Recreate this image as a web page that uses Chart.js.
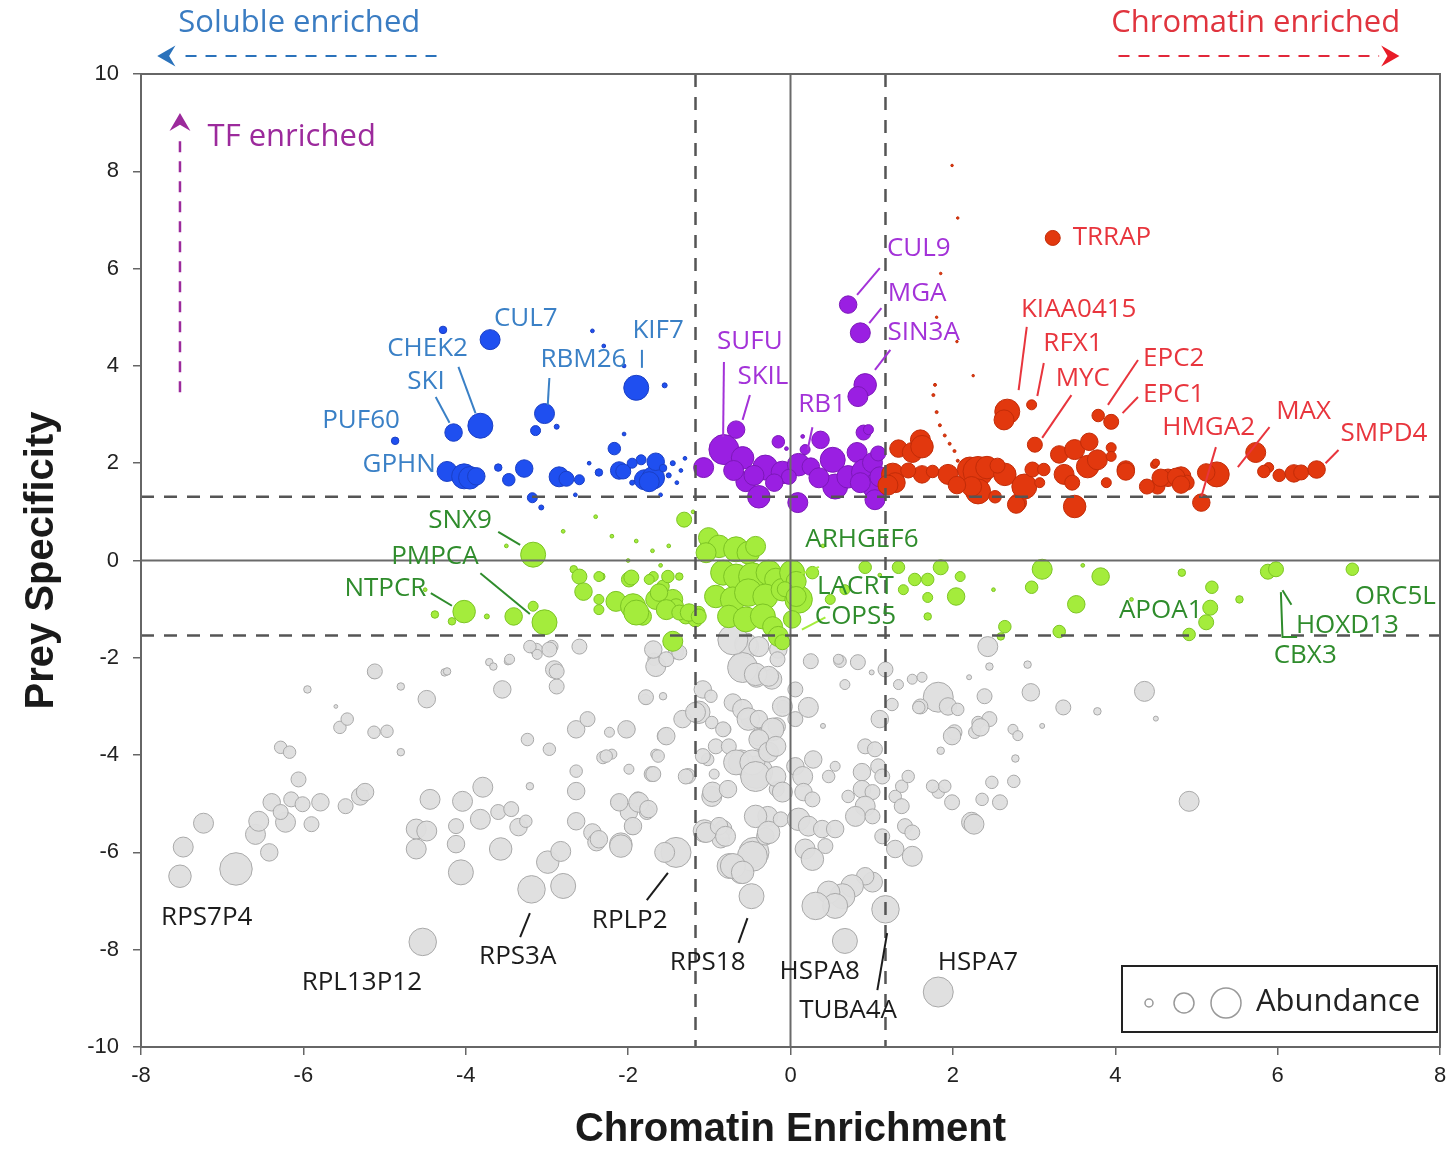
<!DOCTYPE html>
<html>
<head>
<meta charset="utf-8">
<title>Chromatin enrichment vs prey specificity</title>
<script src="https://cdn.jsdelivr.net/npm/chart.js@4.4.1/dist/chart.umd.min.js"></script>
<style>
  html, body { margin: 0; padding: 0; background: #fff; }
  #wrap { width: 1447px; height: 1150px; }
</style>
</head>
<body>
<div id="wrap"><canvas id="enrichChart" width="1447" height="1150"></canvas></div>
<script>
// axis ticks and cut-offs
const xTicks = [-8, -6, -4, -2, 0, 2, 4, 6, 8];
const yTicks = [-10, -8, -6, -4, -2, 0, 2, 4, 6, 8, 10];
const xCuts = [-1.17, 1.17];
const yCuts = [1.31, -1.54];

// [chromatin enrichment, prey specificity, abundance]
const bluePts = [
  [-4.28,4.74,3],[-3.70,4.54,8],[-4.15,2.63,7],[-3.82,2.77,10],[-3.03,3.02,8],[-3.14,2.67,4],[-2.88,2.75,2],
  [-1.90,3.55,10],[-4.87,2.46,3],[-4.23,1.83,8],[-4.02,1.73,10],[-3.95,1.70,9],[-3.87,1.73,7],
  [-3.60,1.91,3],[-3.47,1.66,5],[-3.28,1.89,7],[-2.85,1.72,8],[-2.76,1.68,6],[-2.60,1.66,4],[-2.36,1.81,3],
  [-2.17,2.30,5],[-2.11,1.85,7],[-1.84,2.07,4],[-1.80,1.66,8],[-1.69,1.70,9],[-1.66,2.03,7],[-1.74,1.62,8],
  [-3.18,1.29,4],[-3.07,1.09,2],[-2.44,4.72,1.5],[-2.30,4.41,1.5],[-2.05,4.0,1.5],[-1.55,3.6,2],[-2.05,2.6,1.5],
  [-2.48,2.0,1.5],[-1.57,1.90,3],[-1.50,1.75,2],[-1.45,2.0,2],[-1.40,1.6,1.5],[-1.35,1.85,1.5],[-1.95,1.6,2],
  [-2.0,1.9,2],[-2.65,1.35,1.5],[-1.60,1.35,1.5],[-1.3,2.1,1.5],[-2.06,1.83,6],[-1.95,2.0,4]
];
const purplePts = [
  [0.71,5.26,7],[0.86,4.68,8],[0.92,3.61,9],[0.83,3.37,8],[0.90,2.63,6],[0.96,2.69,4],[-0.67,2.69,7],
  [-0.82,2.28,12],[-0.59,2.11,9],[-1.07,1.91,8],[-0.55,1.62,8],[-0.39,1.31,9],[-0.31,1.91,10],[-0.15,2.44,5],
  [-0.10,1.81,9],[0.10,1.97,9],[0.09,1.19,8],[0.25,1.93,7],[0.37,2.48,7],[0.52,2.07,10],[0.55,1.52,10],
  [0.82,2.22,8],[0.71,1.72,9],[0.92,1.81,11],[1.04,1.52,10],[1.04,1.25,8],[0.86,1.60,8],[1.01,2.01,8],
  [1.10,1.72,8],[-0.02,1.72,6],[0.18,2.28,4],[-0.45,1.75,8],[-0.70,1.85,8],[0.35,1.70,8],[1.08,2.2,6],
  [-0.20,1.6,7],[0.15,2.55,1.5],[-0.05,2.3,1.5]
];
const redPts = [
  [3.23,6.63,6],[2.67,3.06,10],[2.63,2.89,8],[2.97,3.20,4],[3.01,2.38,6],[3.79,2.98,5],[3.95,2.85,6],
  [5.73,2.22,8],[5.06,1.19,7],[5.25,1.77,10],[5.12,1.81,7],[5.89,1.91,4],[5.83,1.83,5],[6.02,1.75,5],
  [6.20,1.79,7],[6.29,1.81,6],[6.48,1.87,7],[4.48,1.97,3],[4.52,1.52,6],[4.65,1.70,7],[4.81,1.72,8],
  [4.88,1.60,6],[4.13,1.87,7],[1.33,2.30,7],[1.50,2.22,8],[1.60,2.48,8],[1.62,2.34,9],[1.26,1.77,9],
  [1.29,1.60,8],[1.62,1.77,7],[1.75,1.83,5],[1.94,1.77,8],[2.21,1.87,10],[2.31,1.83,12],[2.42,1.91,9],
  [2.31,1.42,10],[2.23,1.52,8],[2.52,1.31,5],[2.64,1.77,9],[2.80,1.19,7],[2.88,1.52,10],[2.98,1.87,6],
  [3.12,1.87,5],[3.31,2.18,7],[3.50,2.28,8],[3.68,2.44,7],[3.37,1.77,8],[3.47,1.60,6],[3.50,1.11,9],
  [3.66,1.93,9],[3.78,2.07,8],[3.95,2.32,4],[3.95,2.14,4],[3.89,1.60,4],[4.13,1.83,7],[4.39,1.52,6],
  [4.50,2.01,3],[4.56,1.70,7],[4.75,1.72,7],[4.81,1.56,7],[2.78,1.15,7],[3.07,1.60,4],[1.20,1.55,8],
  [1.45,1.85,6],[2.05,1.55,7],[2.55,1.95,6],
  [1.99,8.12,1],[2.06,7.04,1],[1.85,5.9,1],[1.80,5.0,1],[1.78,3.61,1.2],[1.76,3.40,1.2],[1.80,3.05,1.2],
  [1.84,2.78,1.2],[1.90,2.57,1.2],[1.96,2.40,1.2],[2.02,2.25,1.2],[2.06,2.05,1.2],[2.05,4.5,1],[2.25,3.8,1]
];
const greenPts = [
  [-1.31,0.84,6],[-1.01,0.47,8],[-0.88,0.29,9],[-1.04,0.16,8],[-0.67,0.23,10],[-0.52,0.16,9],[-0.43,0.29,8],
  [-0.83,-0.25,10],[-0.67,-0.33,10],[-0.47,-0.33,11],[-0.27,-0.25,10],[-0.18,-0.39,9],[-0.92,-0.74,9],
  [-0.71,-0.80,10],[-0.52,-0.66,11],[-0.31,-0.74,10],[-0.10,-0.60,9],[0.02,-0.25,10],[-0.76,-1.15,9],
  [-0.55,-1.21,10],[-0.34,-1.15,10],[-0.22,-1.36,8],[-0.15,-1.56,8],[-0.10,-1.68,6],[0.10,-0.80,11],
  [0.02,-1.21,7],[0.07,-0.43,8],[-1.99,-0.39,6],[-2.15,-0.84,8],[-1.94,-0.94,10],[-1.82,-1.15,7],
  [-1.66,-0.80,8],[-1.57,-0.53,5],[-1.51,-0.33,5],[-1.45,-0.80,8],[-1.29,-1.15,6],[-1.41,-0.94,6],
  [-1.69,-0.33,4],[-1.37,-0.33,3],[-1.17,-1.21,6],[-1.13,-1.07,5],[-2.33,-0.33,3],[-1.45,-1.66,8],
  [-3.17,0.12,10],[-4.02,-1.05,9],[-4.38,-1.11,3],[-4.17,-1.25,3],[-3.03,-1.27,10],[-3.41,-1.15,7],
  [-3.17,-0.94,4],[-3.74,-1.15,2],[-2.67,-0.18,3],[-2.60,-0.33,6],[-2.55,-0.64,7],[-2.36,-0.33,4],
  [-2.36,-0.80,4],[-2.36,-1.01,4],[-1.96,-0.35,6],[-1.90,-1.07,10],[-1.74,-0.39,4],[-1.62,-0.66,7],
  [-1.53,-1.01,8],[-1.37,-1.07,6],[-1.25,-1.07,7],[-1.13,-1.15,6],
  [1.33,-0.14,5],[1.53,-0.39,5],[1.85,-0.14,6],[2.09,-0.33,4],[2.04,-0.74,7],[1.69,-0.76,4],[1.69,-1.15,3],
  [2.64,-1.36,5],[2.59,-1.56,3],[2.97,-0.55,5],[3.10,-0.18,8],[3.31,-1.46,5],[3.52,-0.90,7],[3.82,-0.33,7],
  [4.82,-0.25,3],[5.19,-0.55,5],[5.17,-0.97,6],[5.12,-1.27,6],[5.53,-0.80,3],[4.91,-1.52,5],[5.88,-0.23,6],
  [5.98,-0.18,6],[6.92,-0.18,5],[-0.07,-0.59,6],[0.07,-0.74,8],[1.39,-0.60,4],[1.69,-0.39,5],[0.92,-0.14,5],
  [0.67,-0.60,4],[0.49,-0.80,4],[0.27,-0.25,5],
  [-2.8,0.6,1.5],[-2.4,0.9,1.5],[-2.2,0.5,1.5],[-1.9,0.4,1.5],[-1.7,0.2,1.5],[-1.5,0.3,1.5],[-1.6,-0.1,1.5],
  [-2.0,0.0,1.5],[-3.5,0.3,1.5],[-4.5,-0.6,1.5],[-1.2,1.0,1.5],[0.4,0.3,1.5],[1.1,-0.3,1.5],[2.5,-0.6,1.5],
  [4.2,-0.8,1.5],[3.6,-0.1,1.5]
];
const grayPts = [
  [-7.48,-5.89,8],[-7.52,-6.49,9],[-7.23,-5.40,8],[-6.83,-6.34,13],[-6.59,-5.63,8],[-6.55,-5.36,8],
  [-6.42,-6.00,7],[-6.39,-4.97,7],[-6.22,-5.38,8],[-6.28,-5.17,6],[-6.28,-3.84,5],[-6.17,-3.94,5],
  [-6.06,-4.50,6],[-6.15,-4.91,6],[-6.01,-5.01,6],[-5.90,-5.42,6],[-5.79,-4.97,7],[-5.95,-2.65,3],
  [-5.55,-3.43,5],[-5.46,-3.26,5],[-5.48,-5.05,6],[-5.30,-4.85,7],[-5.24,-4.76,7],[-5.13,-3.53,5],
  [-4.97,-3.51,5],[-5.13,-2.30,5],[-4.80,-3.94,3],[-4.80,-2.59,3],[-4.48,-2.85,7],[-4.26,-2.30,3],
  [-4.44,-4.91,8],[-4.61,-5.52,8],[-4.48,-5.56,8],[-4.61,-5.93,8],[-4.53,-7.84,11],[-4.04,-4.95,8],
  [-4.12,-5.46,6],[-4.12,-5.83,7],[-4.06,-6.41,10],[-3.79,-4.66,8],[-3.82,-5.32,8],[-3.60,-5.17,6],
  [-3.44,-5.11,6],[-3.35,-5.48,7],[-3.26,-5.36,5],[-3.57,-5.93,9],[-3.71,-2.09,3],[-3.55,-2.65,7],
  [-3.48,-2.07,3],[-3.24,-3.68,5],[-3.21,-4.64,3],[-3.19,-6.76,11],[-2.99,-6.20,9],[-2.83,-5.98,8],
  [-2.80,-6.69,10],[-2.97,-3.88,5],[-2.91,-2.24,7],[-2.88,-2.59,6],[-3.13,-1.83,5],[-2.94,-1.77,5],
  [-2.64,-3.47,7],[-2.50,-3.26,6],[-2.64,-4.33,5],[-2.64,-4.74,7],[-2.64,-5.36,7],[-2.44,-5.59,7],
  [-2.39,-5.79,7],[-2.31,-4.05,5],[-2.20,-3.98,4],[-2.01,-3.47,6],[-2.12,-4.97,6],[-2.09,-5.83,9],
  [-1.99,-5.17,7],[-1.88,-4.91,6],[-1.77,-5.17,6],[-1.95,-5.48,6],[-1.79,-2.85,4],[-1.71,-4.39,6],
  [-1.66,-3.98,4],[-1.55,-3.61,6],[-1.41,-6.00,12],[-1.55,-6.00,8],[-1.26,-4.43,6],[-1.13,-3.12,9],
  [-1.02,-4.09,5],[-1.06,-5.56,9],[-0.97,-4.85,8],[-0.83,-5.52,7],[-0.86,-5.73,7],[-0.97,-3.33,5],
  [-0.94,-4.39,4],[-0.75,-6.28,10],[-0.61,-6.41,9],[-0.45,-6.00,12],[-0.48,-6.90,10],[-0.42,-4.35,13],
  [-0.61,-4.15,10],[-0.81,-3.47,5],[-0.50,-3.26,7],[-0.39,-3.63,7],[-0.31,-3.94,6],[-0.28,-5.26,8],
  [-0.31,-5.67,7],[-0.17,-3.41,7],[-0.17,-4.70,6],[-0.59,-2.18,11],[-0.42,-2.40,8],[-0.53,-1.77,9],
  [-0.23,-2.44,8],[-0.15,-1.83,7],[-0.09,-3.00,5],[-1.68,-2.03,5],[-1.41,-1.87,6],[-1.57,-2.79,3],
  [-0.55,-1.72,9],[-0.59,-2.20,12],[-0.43,-2.34,9],[-0.27,-2.38,8],[-0.16,-2.03,6],[-1.66,-2.18,8],
  [-1.78,-2.81,6],[-2.02,-3.47,7],[-2.23,-3.53,4],[-2.27,-4.02,5],[-1.53,-3.61,7],[-1.63,-4.02,5],
  [-1.99,-4.29,4],[-1.69,-4.39,6],[-1.33,-3.26,7],[-1.17,-3.12,8],[-1.08,-2.65,7],[-0.98,-2.79,5],
  [-0.71,-2.92,7],[-0.59,-3.06,8],[-0.52,-3.26,9],[-0.39,-3.26,7],[-0.22,-3.47,9],[-0.10,-3.00,8],
  [-0.83,-3.47,6],[-0.92,-3.82,6],[-1.08,-4.02,6],[-0.76,-3.82,6],[-0.67,-4.15,10],[-0.47,-4.15,10],
  [-0.39,-3.68,8],[-0.43,-4.44,12],[-0.27,-3.94,8],[-0.18,-3.82,8],[-0.18,-4.44,8],[-1.29,-4.44,6],
  [-0.96,-4.76,8],[-0.77,-4.70,7],[-2.11,-4.97,7],[-1.87,-4.97,8],[-1.75,-5.11,7],[-1.94,-5.46,7],
  [-2.09,-5.87,9],[-2.36,-5.73,7],[-1.04,-5.59,8],[-0.88,-5.46,7],[-0.80,-5.67,8],[-0.43,-5.26,9],
  [-0.27,-5.59,9],[-0.12,-5.32,6],[-0.47,-6.08,12],[-0.71,-6.28,10],[-0.59,-6.41,9],[-0.10,-4.76,8],
  [0.25,-2.07,6],[0.61,-2.07,5],[0.83,-2.09,6],[1.17,-2.24,6],[0.06,-2.65,6],[0.22,-3.02,8],[0.06,-3.26,6],
  [0.67,-2.55,4],[1.10,-3.26,7],[1.25,-2.96,5],[1.33,-2.55,4],[1.50,-2.44,4],[1.62,-2.40,4],[1.82,-2.81,12],
  [1.94,-3.00,7],[2.06,-3.06,5],[1.60,-3.00,6],[2.39,-2.79,6],[2.45,-3.26,6],[2.31,-3.33,5],[2.02,-3.53,6],
  [2.27,-3.53,5],[2.45,-2.18,3],[2.43,-1.77,8],[2.74,-3.47,4],[0.06,-4.23,7],[0.15,-4.44,8],[0.28,-4.09,7],
  [0.47,-4.44,5],[0.55,-4.23,4],[0.16,-4.76,7],[0.27,-4.91,6],[0.92,-3.82,6],[1.04,-3.88,6],[1.08,-4.23,6],
  [1.13,-4.44,6],[0.88,-4.35,7],[0.88,-4.70,7],[1.01,-4.76,6],[0.92,-5.05,8],[0.80,-5.26,8],[1.01,-5.26,6],
  [0.71,-4.85,5],[1.29,-4.85,5],[1.37,-4.64,5],[1.45,-4.44,5],[1.37,-5.05,6],[1.41,-5.46,6],[1.50,-5.59,6],
  [1.29,-5.93,7],[1.50,-6.08,8],[1.13,-5.67,6],[1.82,-4.76,5],[1.90,-4.64,5],[1.99,-4.97,6],[2.23,-5.38,8],
  [2.36,-4.91,5],[2.48,-4.56,5],[2.58,-4.97,6],[0.10,-5.32,9],[0.22,-5.46,8],[0.39,-5.52,7],[0.55,-5.52,7],
  [0.18,-5.93,8],[0.27,-6.14,9],[0.43,-5.87,6],[1.01,-6.61,8],[0.92,-6.49,7],[0.76,-6.69,9],[0.64,-6.90,10],
  [0.47,-6.82,9],[0.55,-7.10,10],[0.31,-7.10,11],[1.17,-7.17,11],[0.59,-2.03,4],[1.58,-3.02,5],
  [2.96,-2.71,7],[3.36,-3.02,6],[3.78,-3.10,3],[4.36,-2.69,8],[4.50,-3.25,2],[4.91,-4.95,8],[0.67,-7.82,10],
  [1.82,-8.87,12],[1.75,-4.64,5],[2.26,-5.42,8],[2.75,-4.54,5],[1.99,-3.61,7],[2.34,-3.43,7],[2.80,-3.60,4],
  [2.77,-4.07,3],[1.85,-3.91,3],[2.92,-2.14,3],[-1.69,-1.83,7],[-1.53,-2.03,6],[-1.37,-1.89,6],
  [-2.60,-1.77,6],[-2.97,-1.83,6],[-3.21,-1.77,5],[-3.46,-2.03,4],[-3.12,-1.93,4],[-3.66,-2.18,3],
  [-4.23,-2.28,3],[-5.12,-2.28,6],[-2.88,-2.28,6],[-0.71,-1.63,12],[-0.39,-1.77,8],
  [1.0,-2.3,2],[2.2,-2.4,2],[0.4,-3.4,2],[3.1,-3.4,2],[-5.6,-3.0,1.5]
];

// gene labels: [text, x, y, group]
const geneLabels = [
  ['CUL7',-3.26,4.98,'blue'],['CHEK2',-4.47,4.35,'blue'],['SKI',-4.49,3.67,'blue'],['RBM26',-2.55,4.12,'blue'],
  ['KIF7',-1.63,4.72,'blue'],['PUF60',-5.29,2.87,'blue'],['GPHN',-4.82,1.98,'blue'],
  ['SUFU',-0.50,4.49,'purple'],['SKIL',-0.34,3.79,'purple'],['RB1',0.39,3.20,'purple'],
  ['CUL9',1.58,6.42,'purple'],['MGA',1.56,5.48,'purple'],['SIN3A',1.64,4.68,'purple'],
  ['TRRAP',3.96,6.63,'red'],['KIAA0415',3.55,5.15,'red'],['RFX1',3.48,4.45,'red'],['MYC',3.60,3.73,'red'],
  ['EPC2',4.72,4.16,'red'],['EPC1',4.72,3.42,'red'],['HMGA2',5.15,2.74,'red'],['MAX',6.32,3.07,'red'],
  ['SMPD4',7.31,2.60,'red'],
  ['SNX9',-4.07,0.81,'green'],['PMPCA',-4.38,0.09,'green'],['NTPCR',-4.99,-0.57,'green'],
  ['ARHGEF6',0.88,0.42,'green'],['LACRT',0.80,-0.54,'green'],['COPS5',0.80,-1.16,'green'],
  ['APOA1',4.56,-1.02,'green'],['ORC5L',7.45,-0.75,'green'],['HOXD13',6.86,-1.33,'green'],['CBX3',6.34,-1.96,'green'],
  ['RPS7P4',-7.19,-7.35,'gray'],['RPL13P12',-5.28,-8.68,'gray'],['RPS3A',-3.36,-8.15,'gray'],
  ['RPLP2',-1.98,-7.41,'gray'],['RPS18',-1.02,-8.27,'gray'],['HSPA8',0.36,-8.46,'gray'],
  ['TUBA4A',0.71,-9.26,'gray'],['HSPA7',2.31,-8.27,'gray']
];
// leader lines: [group, x1, y1, x2, y2, ...]
const leaders = [
  ['blue',-4.37,3.36,-4.20,2.83],['blue',-4.09,3.98,-3.88,3.03],['blue',-2.97,3.75,-2.99,3.20],['blue',-1.83,4.33,-1.83,3.96],
  ['purple',-0.82,4.08,-0.83,2.54],['purple',-0.50,3.40,-0.59,2.89],['purple',0.27,2.74,0.21,2.27],
  ['purple',1.10,6.01,0.82,5.46],['purple',1.12,5.19,0.97,4.88],['purple',1.23,4.33,1.04,3.92],
  ['red',2.91,4.80,2.81,3.50],['red',3.12,4.06,3.04,3.38],['red',3.46,3.40,3.10,2.52],['red',4.28,4.12,3.91,3.20],
  ['red',4.28,3.36,4.09,3.03],['red',5.24,2.33,5.06,1.31],['red',5.90,2.74,5.51,1.92],['red',6.75,2.27,6.59,2.00],
  ['green',-3.60,0.59,-3.33,0.32],['green',-3.82,-0.26,-3.21,-1.10],['green',-4.43,-0.67,-4.17,-0.93],
  ['green',6.06,-0.61,6.17,-0.91],['green',6.04,-0.65,6.06,-1.57,6.24,-1.57],
  ['lime',0.10,-0.30,0.35,-0.13],['lime',0.14,-1.42,0.43,-1.17],
  ['gray',-3.21,-7.25,-3.33,-7.74],['gray',-1.51,-6.42,-1.77,-6.98],['gray',-0.53,-7.35,-0.64,-7.86],['gray',1.19,-7.66,1.07,-8.83]
];

const palette = {
  blue:   { fill: '#1f4ff0', edge: '#1a3fc4', text: '#3a80c6' },
  purple: { fill: '#9a1fe2', edge: '#7c18b8', text: '#a332d8' },
  red:    { fill: '#e2380e', edge: '#c22c08', text: '#e8353d' },
  green:  { fill: '#a4ec3c', edge: '#7cc424', text: '#2f8c2c' },
  lime:   { fill: '#a4ec3c', edge: '#7cc424', text: '#a4ec3c' },
  gray:   { fill: 'rgba(222,222,222,0.95)', edge: '#a9a9a9', text: '#1c1c1c' }
};
const labelFont = '26px "Open Sans"';
const noteFont = '31px "Open Sans"';

function bubbles(pts) {
  // abundance value -> bubble radius in px
  return pts.map(p => ({ x: p[0], y: p[1], r: p[2] * 1.25 }));
}
function makeSet(label, pts, key, order) {
  return {
    label: label,
    data: bubbles(pts),
    backgroundColor: palette[key].fill,
    borderColor: palette[key].edge,
    borderWidth: 1,
    hoverRadius: 0,
    order: order
  };
}

function arrowHead(ctx, x, y, dir, size) {
  // swept dart shape, dir is angle of travel
  ctx.save();
  ctx.translate(x, y);
  ctx.rotate(dir);
  ctx.beginPath();
  ctx.moveTo(0, 0);
  ctx.lineTo(-size * 1.3, -size * 0.75);
  ctx.lineTo(-size * 0.85, 0);
  ctx.lineTo(-size * 1.3, size * 0.75);
  ctx.closePath();
  ctx.fill();
  ctx.restore();
}

const overlay = {
  id: 'overlay',
  afterDatasetsDraw(chart) {
    const { ctx, chartArea: a, scales: { x, y } } = chart;
    ctx.save();

    // zero lines
    ctx.strokeStyle = '#6a6a6a';
    ctx.lineWidth = 2;
    ctx.beginPath();
    ctx.moveTo(x.getPixelForValue(0), a.top);
    ctx.lineTo(x.getPixelForValue(0), a.bottom);
    ctx.moveTo(a.left, y.getPixelForValue(0));
    ctx.lineTo(a.right, y.getPixelForValue(0));
    ctx.stroke();

    // cut-off lines
    ctx.strokeStyle = '#555';
    ctx.lineWidth = 2.5;
    ctx.setLineDash([13, 10]);
    ctx.beginPath();
    xCuts.forEach(v => {
      ctx.moveTo(x.getPixelForValue(v), a.top);
      ctx.lineTo(x.getPixelForValue(v), a.bottom);
    });
    yCuts.forEach(v => {
      ctx.moveTo(a.left, y.getPixelForValue(v));
      ctx.lineTo(a.right, y.getPixelForValue(v));
    });
    ctx.stroke();
    ctx.setLineDash([]);

    // plot frame
    ctx.strokeStyle = '#666';
    ctx.lineWidth = 2;
    ctx.strokeRect(a.left, a.top, a.right - a.left, a.bottom - a.top);

    // leader lines
    ctx.lineWidth = 2;
    leaders.forEach(l => {
      ctx.strokeStyle = l[0] === 'lime' ? palette.lime.fill : palette[l[0]].text;
      ctx.beginPath();
      for (let i = 1; i < l.length; i += 2) {
        const px = x.getPixelForValue(l[i]), py = y.getPixelForValue(l[i + 1]);
        if (i === 1) ctx.moveTo(px, py); else ctx.lineTo(px, py);
      }
      ctx.stroke();
    });

    // gene labels
    ctx.font = labelFont;
    ctx.textAlign = 'center';
    ctx.textBaseline = 'middle';
    geneLabels.forEach(g => {
      ctx.fillStyle = palette[g[3]].text;
      ctx.fillText(g[0], x.getPixelForValue(g[1]), y.getPixelForValue(g[2]));
    });

    // TF enriched arrow inside the plot
    const tfx = x.getPixelForValue(-7.52);
    ctx.strokeStyle = '#9c2a9c';
    ctx.fillStyle = '#9c2a9c';
    ctx.lineWidth = 2.5;
    ctx.setLineDash([11, 9]);
    ctx.beginPath();
    ctx.moveTo(tfx, y.getPixelForValue(3.46));
    ctx.lineTo(tfx, y.getPixelForValue(8.7));
    ctx.stroke();
    ctx.setLineDash([]);
    arrowHead(ctx, tfx, y.getPixelForValue(9.2), -Math.PI / 2, 14);
    ctx.font = noteFont;
    ctx.textAlign = 'left';
    ctx.fillText('TF enriched', x.getPixelForValue(-7.18), y.getPixelForValue(8.7));

    // abundance key
    const bw = 315, bh = 66;
    const bx = a.right - 3 - bw, by = a.bottom - 15 - bh;
    ctx.strokeStyle = '#222';
    ctx.lineWidth = 2;
    ctx.strokeRect(bx, by, bw, bh);
    ctx.strokeStyle = '#999';
    ctx.lineWidth = 1.5;
    [[27, 4], [62, 10], [104, 15]].forEach(c => {
      ctx.beginPath();
      ctx.arc(bx + c[0], by + bh / 2 + 4, c[1], 0, Math.PI * 2);
      ctx.stroke();
    });
    ctx.fillStyle = '#222';
    ctx.font = noteFont;
    ctx.textAlign = 'left';
    ctx.fillText('Abundance', bx + 134, by + bh / 2 + 3);

    // header arrows above the plot
    const hy = a.top - 18, ty = a.top - 51;
    ctx.font = noteFont;
    ctx.textAlign = 'center';
    ctx.lineWidth = 2;
    ctx.setLineDash([11, 9]);
    ctx.strokeStyle = '#2a72bb';
    ctx.beginPath();
    ctx.moveTo(x.getPixelForValue(-4.36), hy);
    ctx.lineTo(x.getPixelForValue(-7.5), hy);
    ctx.stroke();
    ctx.strokeStyle = '#e2283a';
    ctx.beginPath();
    ctx.moveTo(x.getPixelForValue(4.04), hy);
    ctx.lineTo(x.getPixelForValue(7.25), hy);
    ctx.stroke();
    ctx.setLineDash([]);
    ctx.fillStyle = '#2a72bb';
    arrowHead(ctx, x.getPixelForValue(-7.8), hy, Math.PI, 14);
    ctx.fillStyle = '#e81c28';
    arrowHead(ctx, x.getPixelForValue(7.5), hy, 0, 14);
    ctx.fillStyle = '#3a7cc2';
    ctx.fillText('Soluble enriched', x.getPixelForValue(-6.05), ty);
    ctx.fillStyle = '#e0343e';
    ctx.fillText('Chromatin enriched', x.getPixelForValue(5.73), ty);

    ctx.restore();
  }
};

const ctx = document.getElementById('enrichChart').getContext('2d');
const enrichChart = new Chart(ctx, {
  type: 'bubble',
  data: {
    datasets: [
      makeSet('Chromatin enriched', redPts, 'red', 1),
      makeSet('TF enriched', purplePts, 'purple', 2),
      makeSet('Soluble enriched', bluePts, 'blue', 3),
      makeSet('Specific', greenPts, 'green', 4),
      makeSet('Background', grayPts, 'gray', 5)
    ]
  },
  options: {
    responsive: false,
    animation: false,
    events: [],
    layout: { autoPadding: false, padding: { top: 74, right: 7, left: 0, bottom: 0 } },
    plugins: {
      legend: { display: false },
      tooltip: { enabled: false }
    },
    scales: {
      x: {
        type: 'linear',
        min: xTicks[0],
        max: xTicks[xTicks.length - 1],
        afterBuildTicks: s => { s.ticks = xTicks.map(v => ({ value: v })); },
        afterFit: s => { s.height = 103; s.paddingLeft = 0; s.paddingRight = 0; },
        grid: { display: true, drawOnChartArea: false, drawTicks: true, tickLength: 8, color: '#666', lineWidth: 1.5 },
        border: { display: true, color: '#666', width: 2 },
        ticks: { padding: 8, color: '#222', font: { family: '"Liberation Sans", Arial', size: 22 } },
        title: {
          display: true,
          text: 'Chromatin Enrichment',
          color: '#1a1a1a',
          padding: { top: 0, bottom: -4 },
          font: { family: '"Liberation Sans", Arial', size: 40, weight: 'bold' }
        }
      },
      y: {
        type: 'linear',
        min: yTicks[0],
        max: yTicks[yTicks.length - 1],
        afterBuildTicks: s => { s.ticks = yTicks.map(v => ({ value: v })); },
        afterFit: s => { s.width = 141; s.paddingTop = 0; s.paddingBottom = 0; },
        grid: { display: true, drawOnChartArea: false, drawTicks: true, tickLength: 8, color: '#666', lineWidth: 1.5 },
        border: { display: true, color: '#666', width: 2 },
        ticks: { padding: 14, color: '#222', font: { family: '"Liberation Sans", Arial', size: 22 } },
        title: {
          display: true,
          text: 'Prey Specificity',
          color: '#1a1a1a',
          padding: { top: 18, bottom: 0 },
          font: { family: '"Liberation Sans", Arial', size: 40, weight: 'bold' }
        }
      }
    }
  },
  plugins: [overlay]
});
</script>
</body>
</html>
